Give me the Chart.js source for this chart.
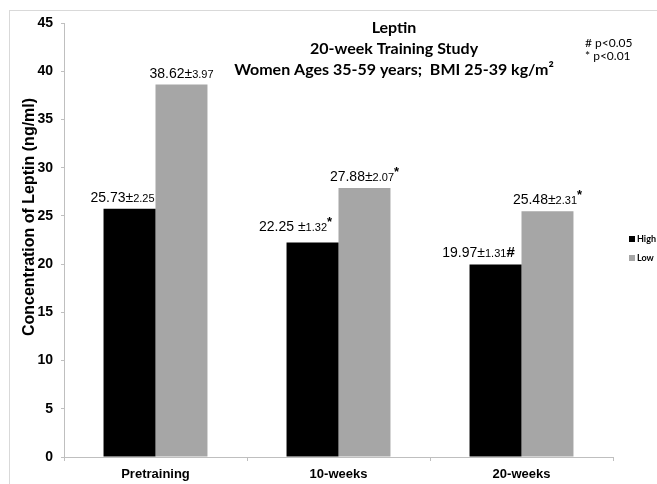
<!DOCTYPE html>
<html>
<head>
<meta charset="utf-8">
<script src="https://cdn.jsdelivr.net/npm/chart.js@4/dist/chart.umd.min.js"></script>
<style>
  html, body { margin: 0; padding: 0; background: #ffffff; }
  #wrap { width: 657px; height: 484px; position: relative; }
</style>
</head>
<body>
<div id="wrap"><canvas id="chart" width="657" height="484"></canvas></div>
<script>
// Leptin concentration (ng/ml) by training group and time point
const categories = ['Pretraining', '10-weeks', '20-weeks'];
const seriesNames = ['High', 'Low'];
const highValues = [25.73, 22.25, 19.97];
const lowValues = [38.62, 27.88, 25.48];
const highSD = [2.25, 1.32, 1.31];
const lowSD = [3.97, 2.07, 2.31];
const highMarks = ['', '*', '#'];
const lowMarks = ['', '*', '*'];
const yTicks = [0, 5, 10, 15, 20, 25, 30, 35, 40, 45];
const titleLines = ['Leptin', '20-week Training Study', 'Women Ages 35-59 years;  BMI 25-39 kg/m\u00B2'];
const noteLines = ['# p<0.05', '* p<0.01'];
const yTitle = 'Concentration of Leptin (ng/ml)';

const ARIAL = '"Liberation Sans", Arial, sans-serif';
const CAL = 'Lato, "Open Sans", sans-serif';
const GREY = '#a6a6a6';
const AXIS = '#bfbfbf';

// Draws "value ± sd" labels with a smaller deviation and a significance mark
const valueLabels = {
  id: 'valueLabels',
  afterDatasetsDraw(chart, args, opts) {
    const ctx = chart.ctx;
    chart.data.datasets.forEach((ds, di) => {
      const meta = chart.getDatasetMeta(di);
      const cfg = opts.sets[di];
      meta.data.forEach((bar, i) => {
        const parts = [
          { t: ds.data[i].toFixed(2) + cfg.sep[i], f: '14px ' + ARIAL, dy: 0 },
          { t: '\u00B1', f: '14px ' + ARIAL, dy: 0 },
          { t: cfg.sd[i].toFixed(2), f: '11px ' + ARIAL, dy: 0 }
        ];
        const m = cfg.marks[i];
        if (m === '*') parts.push({ t: '*', f: 'bold 13px ' + ARIAL, dy: -5 });
        if (m === '#') parts.push({ t: '#', f: 'bold 15px ' + ARIAL, dy: 0 });
        let w = 0;
        parts.forEach(p => { ctx.font = p.f; p.w = ctx.measureText(p.t).width; w += p.w; });
        let x = bar.x + cfg.dx[i] - w / 2;
        const y = bar.y - cfg.dy[i];
        ctx.save();
        ctx.fillStyle = '#000';
        ctx.textBaseline = 'alphabetic';
        ctx.textAlign = 'left';
        parts.forEach(p => { ctx.font = p.f; ctx.fillText(p.t, x, y + p.dy); x += p.w; });
        ctx.restore();
      });
    });
  }
};

// Frame, titles, axis title and legend
const decorations = {
  id: 'decorations',
  beforeDraw(chart) {
    const ctx = chart.ctx;
    ctx.save();
    ctx.fillStyle = '#fff';
    ctx.fillRect(0, 0, chart.width, chart.height);
    ctx.strokeStyle = '#d9d9d9';
    ctx.lineWidth = 1;
    ctx.strokeRect(9.5, 10.5, chart.width + 20, chart.height + 20);
    ctx.restore();
  },
  afterDraw(chart) {
    const ctx = chart.ctx;
    ctx.save();
    ctx.fillStyle = '#000';
    ctx.textAlign = 'center';
    ctx.textBaseline = 'middle';
    ctx.font = 'bold 16px ' + CAL;
    titleLines.forEach((t, i) => ctx.fillText(t, 394, 28 + i * 21));

    ctx.textAlign = 'left';
    ctx.font = '12px ' + CAL;
    noteLines.forEach((t, i) => ctx.fillText(t, 585, 43 + i * 13));

    // axis title
    ctx.save();
    ctx.translate(30, 217);
    ctx.rotate(-Math.PI / 2);
    ctx.textAlign = 'center';
    ctx.font = 'bold 16px ' + ARIAL;
    ctx.fillText(yTitle, 0, 0);
    ctx.restore();

    // legend
    ctx.font = 'bold 9px ' + CAL;
    chart.data.datasets.forEach((ds, i) => {
      const y = 239 + i * 19;
      ctx.fillStyle = ds.backgroundColor;
      ctx.fillRect(629, y - 3, 6, 6);
      ctx.fillStyle = '#000';
      ctx.fillText(ds.label, 637, y);
    });
    ctx.restore();
  }
};

new Chart(document.getElementById('chart'), {
  type: 'bar',
  data: {
    labels: categories,
    datasets: [
      { label: seriesNames[0], data: highValues, backgroundColor: '#000000' },
      { label: seriesNames[1], data: lowValues, backgroundColor: GREY }
    ]
  },
  options: {
    responsive: false,
    animation: false,
    events: [],
    layout: { padding: { left: 0, right: 44, top: 23, bottom: 0 } },
    datasets: { bar: { categoryPercentage: 0.568, barPercentage: 1.0 } },
    plugins: {
      legend: { display: false },
      title: { display: false },
      tooltip: { enabled: false },
      valueLabels: {
        sets: [
          { sd: highSD, marks: highMarks, sep: ['', ' ', ''], dx: [-7, -17, -17], dy: [7, 11, 7] },
          { sd: lowSD, marks: lowMarks, sep: ['', '', ''], dx: [0, 0, 0], dy: [7, 7, 7] }
        ]
      }
    },
    scales: {
      x: {
        grid: { display: true, drawOnChartArea: false, drawTicks: true, tickLength: 4, color: AXIS, offset: true },
        border: { color: AXIS },
        ticks: { color: '#000', font: { family: ARIAL, size: 13, weight: 'bold' }, padding: 6 },
        afterFit(s) { s.height = 27; }
      },
      y: {
        min: 0, max: 45,
        afterBuildTicks(s) { s.ticks = yTicks.map(v => ({ value: v })); },
        grid: { display: true, drawOnChartArea: false, drawTicks: true, tickLength: 3, color: AXIS },
        border: { color: AXIS },
        ticks: { color: '#000', font: { family: ARIAL, size: 14, weight: 'bold' }, padding: 8 },
        afterFit(s) { s.width = 64; }
      }
    }
  },
  plugins: [decorations, valueLabels]
});
</script>
</body>
</html>
